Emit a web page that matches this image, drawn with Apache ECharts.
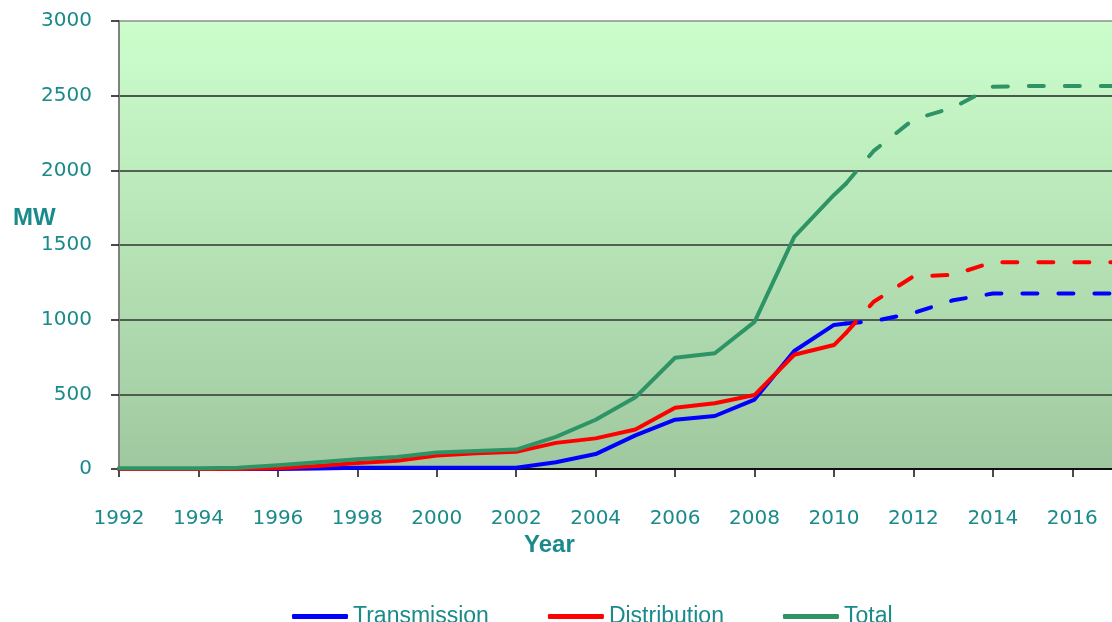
<!DOCTYPE html>
<html>
<head>
<meta charset="utf-8">
<script src="https://cdn.jsdelivr.net/npm/echarts@6/dist/echarts.min.js"></script>
<style>
  html, body { margin: 0; padding: 0; background: #ffffff; }
  #chart { width: 1112px; height: 622px; }
</style>
</head>
<body>
<div id="chart"></div>
<script>
// measured data (MW) - solid part
const actualYears = [1992, 1993, 1994, 1995, 1996, 1997, 1998, 1999, 2000, 2001, 2002,
  2003, 2004, 2005, 2006, 2007, 2008, 2009, 2010, 2010.3];
const transmissionActual = [0, 0, 0, 0, 0, 3, 8, 8, 8, 8, 8,
  45, 100, 225, 330, 355, 465, 790, 965, 975];
const distributionActual = [0, 0, 0, 0, 5, 20, 40, 55, 90, 105, 115,
  175, 205, 265, 410, 440, 495, 765, 830, 910];
const totalActual = [5, 5, 5, 8, 25, 45, 65, 80, 110, 120, 130,
  215, 330, 480, 745, 775, 985, 1555, 1835, 1910];

// forecast part (dashed)
const forecastYears = [2010.3, 2011, 2012, 2013, 2014, 2015, 2016, 2017];
const transmissionForecast = [975, 990, 1045, 1130, 1175, 1175, 1175, 1175];
const distributionForecast = [910, 1120, 1290, 1300, 1385, 1385, 1385, 1385];
const totalForecast = [1910, 2130, 2340, 2420, 2560, 2565, 2565, 2565];

const seriesNames = ['Transmission', 'Distribution', 'Total'];
const seriesColors = ['#0000ff', '#ff0000', '#2e9466'];

const teal = '#1a8a8a';

function pairs(xs, ys) {
  return xs.map((x, i) => [x, ys[i]]);
}

const actualSets = [transmissionActual, distributionActual, totalActual];
const forecastSets = [transmissionForecast, distributionForecast, totalForecast];

const series = [];
seriesNames.forEach((name, i) => {
  series.push({
    name: name,
    type: 'line',
    symbol: 'none',
    data: pairs(actualYears, actualSets[i]),
    lineStyle: { color: seriesColors[i], width: 4, cap: 'round', join: 'round' },
    itemStyle: { color: seriesColors[i] },
    z: 2 + i
  });
});
seriesNames.forEach((name, i) => {
  series.push({
    name: name,
    type: 'line',
    symbol: 'none',
    data: pairs(forecastYears, forecastSets[i]),
    lineStyle: { color: seriesColors[i], width: 4, type: [15, 21], cap: 'round', join: 'round' },
    itemStyle: { color: seriesColors[i] },
    z: 2 + i
  });
});

const myChart = echarts.init(document.getElementById('chart'), null, { renderer: 'canvas' });

const option = {
  animation: false,
  grid: {
    left: 119,
    top: 21,
    right: 0,
    bottom: 153,
    show: true,
    borderWidth: 0,
    backgroundColor: {
      type: 'linear', x: 0, y: 0, x2: 0, y2: 1,
      colorStops: [
        { offset: 0, color: '#ccfecc' },
        { offset: 1, color: '#a0c8a0' }
      ]
    }
  },
  legend: {
    data: seriesNames.map(n => ({ name: n, icon: 'roundRect' })),
    left: 287,
    top: 600,
    itemWidth: 56,
    itemHeight: 5,
    itemGap: 59,
    textStyle: {
      fontFamily: '"Liberation Sans", sans-serif',
      fontSize: 23,
      color: teal
    }
  },
  xAxis: {
    type: 'value',
    min: 1992,
    max: 2017,
    interval: 2,
    axisLine: { show: true, lineStyle: { color: '#111', width: 2 } },
    axisTick: { show: true, length: 8, lineStyle: { color: '#111', width: 1.5 } },
    axisLabel: {
      margin: 40,
      showMaxLabel: false,
      fontFamily: '"DejaVu Sans", sans-serif',
      fontSize: 20,
      color: teal,
      formatter: v => (v % 2 === 0 ? String(v) : '')
    },
    splitLine: { show: false }
  },
  yAxis: {
    type: 'value',
    min: 0,
    max: 3000,
    interval: 500,
    axisLine: { show: true, lineStyle: { color: '#808080', width: 2 } },
    axisTick: { show: true, length: 8, lineStyle: { color: '#111', width: 1.5 } },
    axisLabel: {
      margin: 27,
      fontFamily: '"DejaVu Sans", sans-serif',
      fontSize: 20,
      color: teal,
      formatter: v => String(v)
    },
    splitLine: {
      show: true,
      lineStyle: {
        color: ['#555', '#333', '#333', '#333', '#333', '#222', '#8c8c8c'],
        width: 1.5
      }
    }
  },
  graphic: [
    {
      type: 'text',
      left: 13,
      top: 206,
      style: {
        text: 'MW',
        fontFamily: '"Liberation Sans", sans-serif',
        fontWeight: 'bold',
        fontSize: 24,
        fill: teal
      }
    },
    {
      type: 'text',
      left: 524,
      top: 533,
      style: {
        text: 'Year',
        fontFamily: '"Liberation Sans", sans-serif',
        fontWeight: 'bold',
        fontSize: 24,
        fill: teal
      }
    }
  ],
  series: series
};

myChart.setOption(option);
</script>
</body>
</html>
